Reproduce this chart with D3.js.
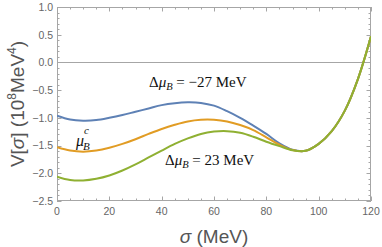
<!DOCTYPE html>
<html>
<head>
<meta charset="utf-8">
<script src="https://cdn.jsdelivr.net/npm/d3@7"></script>
<style>
  body { margin: 0; background: #fff; }
  svg { display: block; }
</style>
</head>
<body>
<svg id="chart" width="382" height="247"></svg>
<script>
// sigma values (MeV)
var sigma = [0, 5, 10, 15, 20, 25, 30, 35, 40, 45, 50, 55, 60, 65, 70, 75, 80, 85, 90, 95, 100, 105, 110, 115, 120];

// V[sigma] in 10^8 MeV^4
var vMinus27 = [-0.96, -1.03, -1.05, -1.04, -1.00, -0.95, -0.89, -0.83, -0.77, -0.735, -0.72, -0.73, -0.78, -0.88, -1.00, -1.14, -1.29, -1.46, -1.575, -1.595, -1.47, -1.24, -0.87, -0.30, 0.47];
var vCrit    = [-1.53, -1.59, -1.61, -1.59, -1.54, -1.47, -1.385, -1.29, -1.20, -1.125, -1.065, -1.035, -1.035, -1.065, -1.13, -1.22, -1.35, -1.485, -1.58, -1.595, -1.47, -1.24, -0.87, -0.30, 0.47];
var vPlus23  = [-2.06, -2.12, -2.13, -2.10, -2.04, -1.95, -1.84, -1.715, -1.59, -1.47, -1.37, -1.29, -1.248, -1.24, -1.27, -1.34, -1.43, -1.51, -1.585, -1.595, -1.47, -1.24, -0.87, -0.30, 0.47];

var xTicks = [0, 20, 40, 60, 80, 100, 120];
var yTicks = [1.0, 0.5, 0.0, -0.5, -1.0, -1.5, -2.0, -2.5];

var seriesColors = ["#5e81b5", "#e19c24", "#8fb032"];

var svg = d3.select("#chart");
var pLeft = 57, pRight = 371, pTop = 7, pBottom = 201;

var x = d3.scaleLinear().domain([0, 120]).range([pLeft, pRight]);
var y = d3.scaleLinear().domain([-2.5, 1.0]).range([pBottom, pTop]);

var frameColor = "#a6a6a6";
var labelColor = "#666";

// zero line
svg.append("line")
    .attr("x1", pLeft).attr("x2", pRight)
    .attr("y1", Math.round(y(0)) + 0.5).attr("y2", Math.round(y(0)) + 0.5)
    .attr("stroke", "#a6a6a6").attr("stroke-width", 1);

// ticks on all four sides (inward)
var xMinor = d3.range(0, 120.01, 5);
var yMinor = d3.range(-25, 11, 1).map(function (k) { return k / 10; });

function isMajorX(v) { return Math.abs(v % 20) < 1e-6; }
function isMajorY(v) { return Math.abs(Math.round(v * 2) - v * 2) < 1e-6; }

var tickG = svg.append("g").attr("stroke", frameColor).attr("stroke-width", 1);
xMinor.forEach(function (v) {
    var len = isMajorX(v) ? 4.5 : 2.5;
    var px = Math.round(x(v)) + 0.5;
    tickG.append("line").attr("x1", px).attr("x2", px).attr("y1", pBottom).attr("y2", pBottom - len);
    tickG.append("line").attr("x1", px).attr("x2", px).attr("y1", pTop).attr("y2", pTop + len);
});
yMinor.forEach(function (v) {
    var len = isMajorY(v) ? 4.5 : 2.5;
    var py = Math.round(y(v)) + 0.5;
    tickG.append("line").attr("x1", pLeft).attr("x2", pLeft + len).attr("y1", py).attr("y2", py);
    tickG.append("line").attr("x1", pRight).attr("x2", pRight - len).attr("y1", py).attr("y2", py);
});

// frame
svg.append("rect")
    .attr("x", pLeft + 0.5).attr("y", pTop + 0.5)
    .attr("width", pRight - pLeft - 1).attr("height", pBottom - pTop - 1)
    .attr("fill", "none").attr("stroke", frameColor).attr("stroke-width", 1);

// tick labels
var sans = "Liberation Sans, Arial, sans-serif";
svg.append("g").selectAll("text")
    .data(xTicks)
    .enter().append("text")
    .attr("x", function (d) { return x(d); })
    .attr("y", pBottom + 14)
    .attr("text-anchor", "middle")
    .attr("font-family", sans)
    .attr("font-size", 10.5)
    .attr("fill", labelColor)
    .text(function (d) { return d; });

svg.append("g").selectAll("text")
    .data(yTicks)
    .enter().append("text")
    .attr("x", pLeft - 4)
    .attr("y", function (d) { return y(d) + 3.8; })
    .attr("text-anchor", "end")
    .attr("font-family", sans)
    .attr("font-size", 10.5)
    .attr("fill", labelColor)
    .text(function (d) { return (d < 0 ? "\u2212" : "") + Math.abs(d).toFixed(1); });

// curves
svg.append("clipPath").attr("id", "plotclip")
    .append("rect").attr("x", pLeft).attr("y", pTop).attr("width", pRight - pLeft).attr("height", pBottom - pTop);

var line = d3.line()
    .x(function (d) { return x(d[0]); })
    .y(function (d) { return y(d[1]); })
    .curve(d3.curveCatmullRom.alpha(0.5));

[vMinus27, vCrit, vPlus23].forEach(function (vals, i) {
    svg.append("path")
        .datum(sigma.map(function (s, j) { return [s, vals[j]]; }))
        .attr("clip-path", "url(#plotclip)")
        .attr("fill", "none")
        .attr("stroke", seriesColors[i])
        .attr("stroke-width", 2)
        .attr("d", line);
});

// annotations
var serif = "Liberation Serif, Times New Roman, serif";
function deltaLabel(tx, ty, value) {
    var t = svg.append("text")
        .attr("x", tx).attr("y", ty)
        .attr("font-family", serif)
        .attr("font-size", 15)
        .attr("fill", "#111");
    t.append("tspan").text("\u0394");
    t.append("tspan").attr("font-style", "italic").text("\u03bc");
    t.append("tspan").attr("font-style", "italic").attr("font-size", 10.5).attr("dy", 3).text("B");
    t.append("tspan").attr("dy", -3).text(" = " + value + " MeV");
}
deltaLabel(149, 87, "\u221227");
deltaLabel(165, 165, "23");

svg.append("text")
    .attr("x", 76).attr("y", 146)
    .attr("font-family", serif).attr("font-size", 16).attr("font-style", "italic")
    .attr("fill", "#111").text("\u03bc");
svg.append("text")
    .attr("x", 84).attr("y", 134)
    .attr("font-family", serif).attr("font-size", 11).attr("font-style", "italic")
    .attr("fill", "#111").text("c");
svg.append("text")
    .attr("x", 83).attr("y", 150)
    .attr("font-family", serif).attr("font-size", 11).attr("font-style", "italic")
    .attr("fill", "#111").text("B");

// axis titles
var xt = svg.append("text")
    .attr("x", 214).attr("y", 243)
    .attr("text-anchor", "middle")
    .attr("font-family", sans)
    .attr("font-size", 19)
    .attr("fill", "#555");
xt.append("tspan").attr("font-style", "italic").text("\u03c3");
xt.append("tspan").text(" (MeV)");

var yt = svg.append("text")
    .attr("transform", "translate(24,104) rotate(-90)")
    .attr("text-anchor", "middle")
    .attr("font-family", sans)
    .attr("font-size", 19)
    .attr("fill", "#555");
yt.append("tspan").text("V[");
yt.append("tspan").attr("font-style", "italic").text("\u03c3");
yt.append("tspan").text("] (10");
yt.append("tspan").attr("font-size", 12).attr("dy", -8).text("8");
yt.append("tspan").attr("dy", 8).text("MeV");
yt.append("tspan").attr("font-size", 12).attr("dy", -8).text("4");
yt.append("tspan").attr("dy", 8).text(")");
</script>
</body>
</html>
